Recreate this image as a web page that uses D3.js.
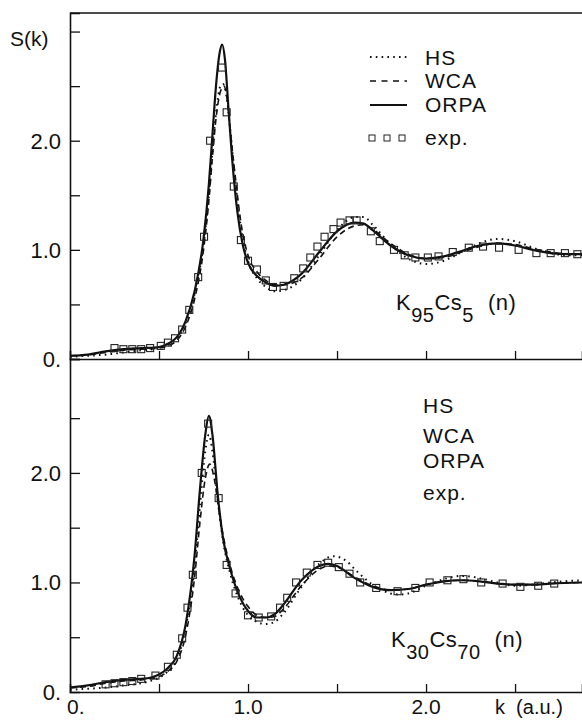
<!DOCTYPE html>
<html><head><meta charset="utf-8">
<script src="https://cdn.jsdelivr.net/npm/d3@7"></script>
<style>
html,body{margin:0;padding:0;background:#fff;}
svg text{font-family:"Liberation Sans",Arial,sans-serif;fill:#111;}
</style></head>
<body><svg id="c" width="582" height="720"></svg>
<script>
// ---- data ----
const kTicks = [0, 1.0, 2.0];
const kTickLabels = ["0.", "1.0", "2.0"];
const sTicks = [0, 1.0, 2.0];
const sTickLabels = ["0.", "1.0", "2.0"];
const seriesNames = ["HS", "WCA", "ORPA", "exp."];

// Top panel K95Cs5
const topK_ORPA = [0,0.1,0.2,0.3,0.4,0.5,0.55,0.6,0.65,0.7,0.75,0.78,0.8,0.82,0.84,0.855,0.87,0.89,0.91,0.94,0.97,1.0,1.05,1.1,1.15,1.2,1.3,1.4,1.5,1.6,1.65,1.7,1.8,1.9,2.0,2.1,2.2,2.3,2.4,2.5,2.6,2.7,2.8,2.88];
const topS_ORPA = [0.03,0.04,0.07,0.09,0.1,0.11,0.14,0.2,0.35,0.62,1.1,1.6,2.05,2.5,2.8,2.88,2.75,2.3,1.85,1.35,1.05,0.88,0.76,0.7,0.67,0.68,0.78,0.98,1.17,1.25,1.24,1.18,1.04,0.95,0.92,0.94,0.99,1.04,1.06,1.04,1.0,0.97,0.96,0.96];
const topK_WCA = [0,0.1,0.2,0.3,0.4,0.5,0.55,0.6,0.65,0.7,0.75,0.78,0.8,0.82,0.845,0.865,0.885,0.9,0.93,0.96,1.0,1.05,1.1,1.15,1.2,1.3,1.4,1.5,1.6,1.65,1.7,1.8,1.9,2.0,2.1,2.2,2.3,2.4,2.5,2.6,2.7,2.8,2.88];
const topS_WCA = [0.03,0.04,0.06,0.08,0.09,0.1,0.12,0.17,0.3,0.55,1.0,1.45,1.85,2.2,2.45,2.5,2.35,2.1,1.65,1.25,0.95,0.8,0.72,0.68,0.68,0.74,0.92,1.12,1.22,1.23,1.19,1.06,0.96,0.92,0.93,0.98,1.03,1.06,1.05,1.01,0.98,0.96,0.96];
const topK_HS = [0,0.1,0.2,0.3,0.4,0.5,0.55,0.6,0.65,0.7,0.75,0.78,0.8,0.82,0.845,0.86,0.88,0.9,0.93,0.96,1.0,1.05,1.1,1.15,1.2,1.3,1.4,1.5,1.6,1.65,1.7,1.8,1.9,2.0,2.1,2.2,2.3,2.4,2.5,2.6,2.7,2.8,2.88];
const topS_HS = [0.02,0.03,0.04,0.06,0.08,0.1,0.13,0.19,0.33,0.6,1.05,1.5,1.9,2.25,2.5,2.52,2.4,2.1,1.6,1.2,0.9,0.74,0.66,0.62,0.63,0.73,0.95,1.18,1.3,1.3,1.23,1.05,0.92,0.87,0.9,0.98,1.06,1.1,1.08,1.02,0.97,0.95,0.95];
const topK_exp = [0.25,0.3,0.35,0.4,0.45,0.51,0.55,0.59,0.63,0.67,0.72,0.753,0.787,0.854,0.88,0.92,0.96,1.0,1.05,1.10,1.14,1.20,1.26,1.31,1.35,1.39,1.43,1.48,1.52,1.57,1.61,1.69,1.74,1.82,1.88,1.94,2.01,2.07,2.15,2.24,2.32,2.41,2.52,2.62,2.70,2.78,2.85];
const topS_exp = [0.1,0.09,0.09,0.09,0.1,0.12,0.15,0.19,0.27,0.45,0.75,1.12,2.0,2.67,2.26,1.58,1.09,0.9,0.82,0.72,0.66,0.67,0.74,0.83,0.93,1.03,1.12,1.19,1.25,1.27,1.27,1.17,1.08,1.0,0.95,0.93,0.93,0.94,0.98,1.02,1.03,1.02,1.0,0.97,0.97,0.97,0.96];

// Bottom panel K30Cs70
const botK_ORPA = [0,0.1,0.2,0.3,0.4,0.45,0.5,0.55,0.6,0.65,0.7,0.73,0.76,0.78,0.8,0.83,0.86,0.9,0.95,1.0,1.05,1.1,1.15,1.2,1.3,1.4,1.45,1.5,1.6,1.7,1.8,1.9,2.0,2.1,2.2,2.3,2.4,2.5,2.6,2.7,2.88];
const botS_ORPA = [0.04,0.06,0.09,0.11,0.12,0.13,0.16,0.22,0.33,0.62,1.25,1.85,2.35,2.52,2.35,1.8,1.4,1.12,0.88,0.74,0.68,0.68,0.71,0.8,1.02,1.15,1.17,1.15,1.04,0.96,0.93,0.94,0.98,1.01,1.02,1.01,0.99,0.98,0.98,0.99,1.0];
const botK_WCA = [0,0.1,0.2,0.3,0.4,0.45,0.5,0.55,0.6,0.65,0.7,0.73,0.76,0.785,0.81,0.84,0.87,0.9,0.95,1.0,1.05,1.1,1.15,1.2,1.3,1.4,1.45,1.5,1.6,1.7,1.8,1.9,2.0,2.1,2.2,2.3,2.4,2.5,2.6,2.7,2.88];
const botS_WCA = [0.04,0.05,0.08,0.1,0.11,0.12,0.14,0.19,0.28,0.52,1.05,1.55,1.95,2.08,1.95,1.62,1.35,1.15,0.92,0.78,0.7,0.68,0.69,0.76,0.97,1.12,1.15,1.14,1.05,0.97,0.93,0.94,0.98,1.01,1.02,1.01,0.99,0.98,0.98,0.99,1.0];
const botK_HS = [0,0.1,0.2,0.3,0.4,0.45,0.5,0.55,0.6,0.65,0.7,0.73,0.76,0.78,0.8,0.83,0.86,0.9,0.95,1.0,1.05,1.1,1.15,1.2,1.3,1.4,1.48,1.55,1.6,1.7,1.8,1.85,1.9,2.0,2.1,2.2,2.3,2.4,2.5,2.6,2.7,2.88];
const botS_HS = [0.02,0.03,0.04,0.06,0.08,0.1,0.13,0.19,0.3,0.58,1.15,1.7,2.2,2.35,2.2,1.75,1.38,1.08,0.84,0.7,0.64,0.62,0.64,0.72,0.96,1.17,1.24,1.2,1.12,0.98,0.9,0.89,0.9,0.97,1.03,1.06,1.04,1.0,0.97,0.98,1.0,1.02];
const botK_exp = [0.2,0.25,0.3,0.35,0.4,0.48,0.55,0.6,0.63,0.66,0.69,0.74,0.776,0.835,0.88,0.93,1.0,1.06,1.13,1.18,1.22,1.27,1.33,1.39,1.45,1.51,1.57,1.63,1.72,1.84,1.94,2.02,2.12,2.21,2.31,2.43,2.53,2.63,2.72];
const botS_exp = [0.07,0.08,0.09,0.1,0.12,0.15,0.23,0.34,0.49,0.77,1.07,2.0,2.45,1.77,1.16,0.9,0.7,0.68,0.69,0.77,0.86,1.0,1.09,1.16,1.18,1.14,1.08,1.0,0.95,0.92,0.95,1.0,1.02,1.03,1.0,0.99,0.96,0.97,0.99];

// ---- drawing ----
const svg = d3.select("#c");
const ink = "#111";
const x = d3.scaleLinear().domain([0, 2.876]).range([70, 582]);
const yTop = d3.scaleLinear().domain([0, 3.17]).range([359, 13]);
const yBot = d3.scaleLinear().domain([0, 3.04]).range([692, 359]);

function zip(ks, ss){ return ks.map((k,i)=>({k, s: ss[i]})); }

function panel(y, data, ticksY){
  const g = svg.append("g");
  const line = d3.line().x(d=>x(d.k)).y(d=>y(d.s)).curve(d3.curveMonotoneX);
  const xAx = d3.axisBottom(x).tickValues([0.5,1,1.5,2,2.5]).tickSize(-8).tickFormat("");
  g.append("g").attr("transform", `translate(0,${y(0)})`).call(xAx)
    .call(a=>{a.select(".domain").attr("stroke", ink).attr("stroke-width",1.6); a.selectAll("line").attr("stroke", ink).attr("stroke-width",1.3);});
  const yAx = d3.axisLeft(y).tickValues(ticksY).tickSize(-10).tickFormat("");
  g.append("g").attr("transform", `translate(${x(0)},0)`).call(yAx)
    .call(a=>{a.select(".domain").attr("stroke", ink).attr("stroke-width",1.6); a.selectAll("line").attr("stroke", ink).attr("stroke-width",1.3);});
  g.append("path").datum(data.hs).attr("d", line).attr("fill","none").attr("stroke",ink)
    .attr("stroke-width",2).attr("stroke-dasharray","1.6,4.2").attr("stroke-linecap","butt");
  g.append("path").datum(data.wca).attr("d", line).attr("fill","none").attr("stroke",ink)
    .attr("stroke-width",1.6).attr("stroke-dasharray","6,4");
  g.append("path").datum(data.orpa).attr("d", line).attr("fill","none").attr("stroke",ink)
    .attr("stroke-width",2.2);
  g.selectAll("rect.exp").data(data.exp).join("rect").attr("class","exp")
    .attr("x", d=>x(d.k)-3.5).attr("y", d=>y(d.s)-3.5).attr("width",7).attr("height",7)
    .attr("fill","none").attr("stroke","#222").attr("stroke-width",1.1);
  g.selectAll("text.yl").data(sTicks).join("text").attr("class","yl")
    .attr("x", 61).attr("y", d=>y(d)+8).attr("text-anchor","end")
    .attr("font-size",22).text((d,i)=>sTickLabels[i]);
  return g;
}

panel(yTop, {
  hs: zip(topK_HS, topS_HS), wca: zip(topK_WCA, topS_WCA),
  orpa: zip(topK_ORPA, topS_ORPA), exp: zip(topK_exp, topS_exp)
}, [0.5,1,1.5,2,2.5,3]);
panel(yBot, {
  hs: zip(botK_HS, botS_HS), wca: zip(botK_WCA, botS_WCA),
  orpa: zip(botK_ORPA, botS_ORPA), exp: zip(botK_exp, botS_exp)
}, [0.5,1,1.5,2,2.5]);

svg.append("line").attr("x1", x(0)).attr("x2", 582).attr("y1", yTop.range()[1]).attr("y2", yTop.range()[1])
  .attr("stroke", ink).attr("stroke-width",1.6);

svg.append("text").attr("x", 10).attr("y", 46).attr("font-size",21).text("S(k)");

svg.selectAll("text.xl").data(kTicks).join("text").attr("class","xl")
  .attr("x", d=> d===0 ? x(d)-3 : x(d)).attr("y", 714)
  .attr("text-anchor", d=> d===0 ? "start" : "middle")
  .attr("font-size",21).text((d,i)=>kTickLabels[i]);
svg.append("text").attr("x", 495).attr("y", 714).attr("font-size",20).attr("xml:space","preserve").text("k  (a.u.)");

const legY = [57, 81, 105, 138];
const legBase = [65, 88, 112, 145];
const lg = svg.append("g");
lg.append("line").attr("x1",370).attr("x2",407).attr("y1",legY[0]).attr("y2",legY[0]).attr("stroke",ink).attr("stroke-width",1.8).attr("stroke-dasharray","1.6,4.2");
lg.append("line").attr("x1",370).attr("x2",407).attr("y1",legY[1]).attr("y2",legY[1]).attr("stroke",ink).attr("stroke-width",1.6).attr("stroke-dasharray","6,5.5");
lg.append("line").attr("x1",370).attr("x2",407).attr("y1",legY[2]).attr("y2",legY[2]).attr("stroke",ink).attr("stroke-width",2);
[372,387,402].forEach(cx=>lg.append("rect").attr("x",cx-3).attr("y",legY[3]-3).attr("width",6).attr("height",6).attr("fill","none").attr("stroke","#222").attr("stroke-width",1));
seriesNames.forEach((n,i)=>lg.append("text").attr("x",425).attr("y",legBase[i]).attr("font-size",21).attr("letter-spacing",1).text(n));

const legBase2 = [413, 443, 468, 500];
seriesNames.forEach((n,i)=>svg.append("text").attr("x",423).attr("y",legBase2[i]).attr("font-size",21).attr("letter-spacing",1).text(n));

function compLabel(xp, yb, a, b){
  const t = svg.append("text").attr("x", xp).attr("y", yb).attr("font-size",22).attr("letter-spacing",0.5);
  t.append("tspan").text("K");
  t.append("tspan").attr("dy",12).attr("font-size",20).text(a);
  t.append("tspan").attr("dy",-12).text("Cs");
  t.append("tspan").attr("dy",12).attr("font-size",20).text(b);
  t.append("tspan").attr("dy",-12).attr("dx",14).text("(n)");
}
compLabel(396, 310, "95", "5");
compLabel(391, 647, "30", "70");
</script></body></html>
